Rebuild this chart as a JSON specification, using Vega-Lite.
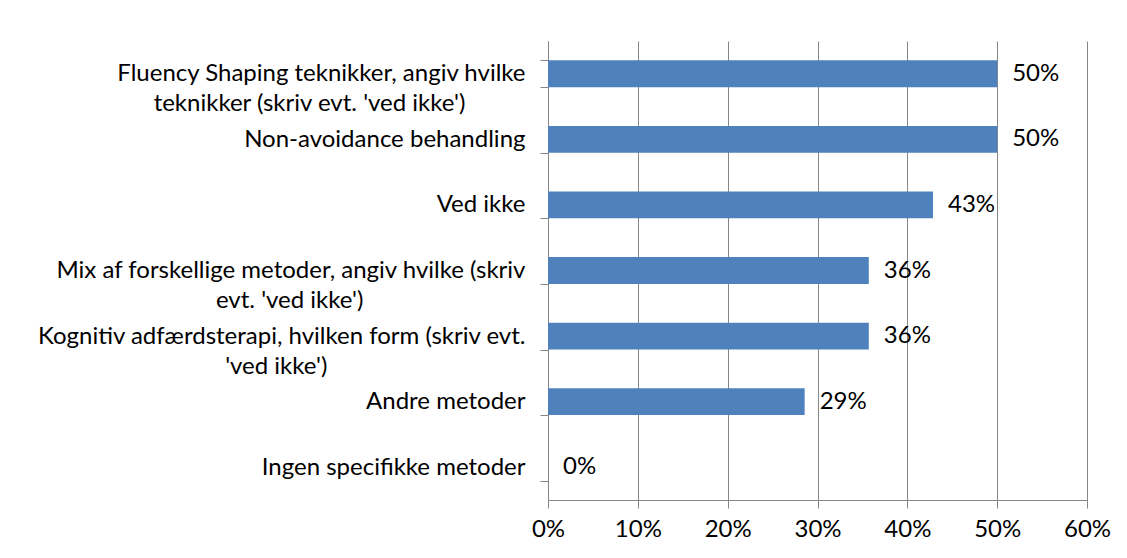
{
  "$schema": "https://vega.github.io/schema/vega-lite/v6.json",
  "width": 539,
  "height": 459,
  "autosize": {"type": "none"},
  "padding": {"left": 548, "top": 41, "right": 40, "bottom": 58},
  "background": "white",
  "config": {"view": {"stroke": null}},
  "data": {
    "values": [
      {"method": "Fluency Shaping teknikker, angiv hvilke\nteknikker (skriv evt. 'ved ikke')", "share": 0.5},
      {"method": "Non-avoidance behandling", "share": 0.5},
      {"method": "Ved ikke", "share": 0.4286},
      {"method": "Mix af forskellige metoder, angiv hvilke (skriv\nevt. 'ved ikke')", "share": 0.3571},
      {"method": "Kognitiv adfærdsterapi, hvilken form (skriv evt.\n'ved ikke')", "share": 0.3571},
      {"method": "Andre metoder", "share": 0.2857},
      {"method": "Ingen specifikke metoder", "share": 0}
    ]
  },
  "encoding": {
    "y": {
      "field": "method",
      "type": "nominal",
      "sort": null,
      "scale": {"paddingInner": 0.59, "paddingOuter": 0.295},
      "axis": {
        "title": null,
        "domainColor": "#868686",
        "tickColor": "#868686",
        "tickSize": 8,
        "tickBand": "extent",
        "labelFont": "Lato",
        "labelFontSize": 24,
        "labelColor": "#000000",
        "labelLimit": 1000,
        "labelLineHeight": 30,
        "labelExpr": "!isString(datum.value) ? '' : indexof(datum.value, '\\n') < 0 ? datum.value : [split(datum.value, '\\n')[0], split(datum.value, '\\n')[1] + (indexof(datum.value, 'Fluency') == 0 ? '\u00a0\u2003\u2003\u2003\u2060' : indexof(datum.value, 'Mix') == 0 ? '\u00a0\u2003\u2003\u2003\u2003\u2003\u2003\u2003\u2003\u2002\u2060' : '\u00a0\u2003\u2003\u2003\u2003\u2003\u2003\u2003\u2003\u2003\u2003\u2002\u2060')]",
        "labelPadding": 15
      }
    }
  },
  "layer": [
    {
      "mark": {"type": "bar", "color": "#4F81BD"},
      "encoding": {
        "x": {
          "field": "share",
          "type": "quantitative",
          "scale": {"domain": [0, 0.6], "nice": false},
          "axis": {
            "title": null,
            "values": [0, 0.1, 0.2, 0.3, 0.4, 0.5, 0.6],
            "format": ".0%",
            "grid": true,
            "gridColor": "#868686",
            "domainColor": "#868686",
            "tickColor": "#868686",
            "tickSize": 8,
            "labelFont": "Lato",
            "labelFontSize": 24,
            "labelColor": "#000000",
            "labelPadding": 9,
            "labelFlush": false,
            "labelOverlap": false
          }
        }
      }
    },
    {
      "mark": {"type": "text", "align": "left", "baseline": "middle", "dx": 15, "font": "Lato", "fontSize": 24, "color": "#000000"},
      "encoding": {
        "x": {"field": "share", "type": "quantitative"},
        "text": {"field": "share", "type": "quantitative", "format": ".0%"}
      }
    }
  ]
}
